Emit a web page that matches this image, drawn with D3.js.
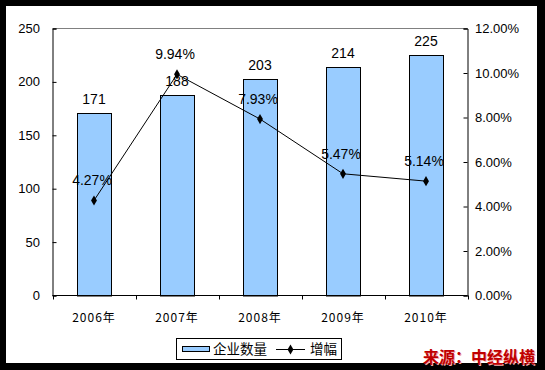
<!DOCTYPE html>
<html><head><meta charset="utf-8">
<script src="https://cdn.jsdelivr.net/npm/d3@7"></script>
<style>
html,body{margin:0;padding:0;background:#000;}
svg{display:block;}
</style></head>
<body>
<script>
const categories = ["2006年","2007年","2008年","2009年","2010年"];
const companyCounts = [171, 188, 203, 214, 225];
const growthRates = [4.27, 9.94, 7.93, 5.47, 5.14];
const growthLabels = ["4.27%","9.94%","7.93%","5.47%","5.14%"];
const leftTicks = [0, 50, 100, 150, 200, 250];
const rightTicks = [0, 2, 4, 6, 8, 10, 12];
const legendNames = ["企业数量", "增幅"];
const sourceText = "来源：中经纵横";

const W = 545, H = 370;
const svg = d3.select("body").append("svg").attr("width", W).attr("height", H);
svg.append("rect").attr("x",0).attr("y",0).attr("width",W).attr("height",H).attr("fill","#000");
svg.append("rect").attr("x",6).attr("y",6).attr("width",531).attr("height",357).attr("fill","#fff");

const L = 52.5, R = 467.5, T = 28.5, B = 295.5;
const x = d3.scaleBand().domain(categories).range([L, R]).paddingInner(0.59).paddingOuter(0.295);
const xb = d3.scaleBand().domain(categories).range([L, R]);
const yL = d3.scaleLinear().domain([0, 250]).range([B, T]);
const yR = d3.scaleLinear().domain([0, 12]).range([B, T]);

const font = "'Liberation Sans', Arial, sans-serif";

svg.append("line").attr("x1",L).attr("x2",R).attr("y1",T).attr("y2",T).attr("stroke","#808080").attr("stroke-width",1);

svg.selectAll("rect.bar").data(companyCounts).enter().append("rect")
  .attr("class","bar")
  .attr("x",(d,i)=>Math.round(x(categories[i]))+0.5)
  .attr("y",d=>Math.round(yL(d))+0.5)
  .attr("width",Math.round(x.bandwidth()))
  .attr("height",d=>B-Math.round(yL(d))-0.5+0.5)
  .attr("fill","#99ccff").attr("stroke","#000").attr("stroke-width",1);

const gL = svg.append("g").attr("transform",`translate(${L},0)`)
  .call(d3.axisRight(yL).tickValues(leftTicks).tickSize(4).tickFormat(d3.format("d")));
gL.selectAll("text").remove();
gL.select(".domain").attr("stroke","#000");
svg.selectAll("text.yl").data(leftTicks).enter().append("text")
  .attr("x",40).attr("y",d=>yL(d)+4.5).attr("text-anchor","end")
  .attr("font-family",font).attr("font-size",13).attr("fill","#000").text(d=>d);

const gR = svg.append("g").attr("transform",`translate(${R},0)`)
  .call(d3.axisLeft(yR).tickValues(rightTicks).tickSize(4));
gR.selectAll("text").remove();
svg.selectAll("text.yr").data(rightTicks).enter().append("text")
  .attr("x",475).attr("y",d=>yR(d)+4.5).attr("text-anchor","start")
  .attr("font-family",font).attr("font-size",13).attr("fill","#000").text(d=>d.toFixed(2)+"%");

svg.append("line").attr("x1",L).attr("x2",R).attr("y1",B).attr("y2",B).attr("stroke","#000");
const boundaries = categories.map(c=>xb(c)).concat([R]);
svg.selectAll("line.xt").data(boundaries).enter().append("line")
  .attr("x1",d=>Math.round(d)+0.5).attr("x2",d=>Math.round(d)+0.5).attr("y1",B).attr("y2",B+4).attr("stroke","#000");
svg.selectAll("text.xl").data(categories).enter().append("text")
  .attr("x",d=>xb(d)+xb.bandwidth()/2).attr("y",322).attr("text-anchor","middle")
  .attr("font-family","'Noto Sans CJK SC', 'DejaVu Sans', sans-serif").attr("font-size",12)
  .attr("letter-spacing","1px").attr("fill","#000").text(d=>d);

svg.selectAll("text.bl").data(companyCounts).enter().append("text")
  .attr("x",(d,i)=>xb(categories[i])+xb.bandwidth()/2).attr("y",d=>yL(d)-9)
  .attr("text-anchor","middle").attr("font-family",font).attr("font-size",14).attr("fill","#000").text(d=>d);

const cx = i => xb(categories[i]) + xb.bandwidth()/2;
const line = d3.line().x((d,i)=>cx(i)).y(d=>yR(d));
svg.append("path").datum(growthRates).attr("d",line).attr("fill","none").attr("stroke","#000").attr("stroke-width",1);
const diamond = d3.symbol().type(d3.symbolDiamond).size(30);
svg.selectAll("path.mk").data(growthRates).enter().append("path")
  .attr("d",diamond).attr("transform",(d,i)=>`translate(${cx(i)},${yR(d)})`).attr("fill","#000");
svg.selectAll("text.gl").data(growthRates).enter().append("text")
  .attr("x",(d,i)=>cx(i)-2).attr("y",d=>yR(d)-15)
  .attr("text-anchor","middle").attr("font-family",font).attr("font-size",14).attr("fill","#000").text((d,i)=>growthLabels[i]);

const lg = svg.append("g");
lg.append("rect").attr("x",176.5).attr("y",338.5).attr("width",165).attr("height",21).attr("fill","#fff").attr("stroke","#000");
lg.append("rect").attr("x",182.5).attr("y",346.5).attr("width",27).attr("height",5).attr("fill","#99ccff").attr("stroke","#000");
lg.append("text").attr("x",213).attr("y",354).attr("font-family","'Noto Sans CJK SC', sans-serif").attr("font-size",13.5).attr("fill","#000").text(legendNames[0]);
lg.append("line").attr("x1",276).attr("x2",305).attr("y1",349.5).attr("y2",349.5).attr("stroke","#000");
lg.append("path").attr("d",diamond).attr("transform","translate(290.5,349.5)").attr("fill","#000");
lg.append("text").attr("x",310).attr("y",354).attr("font-family","'Noto Sans CJK SC', sans-serif").attr("font-size",13.5).attr("fill","#000").text(legendNames[1]);

svg.append("text").attr("x",424).attr("y",364).attr("font-family","'Noto Sans CJK SC', sans-serif").attr("font-weight","bold")
  .attr("font-size",16).attr("fill","#f4b0b0").text(sourceText);
svg.append("text").attr("x",423).attr("y",363).attr("font-family","'Noto Sans CJK SC', sans-serif").attr("font-weight","bold")
  .attr("font-size",16).attr("fill","#c00000").text(sourceText);
</script>
</body></html>
